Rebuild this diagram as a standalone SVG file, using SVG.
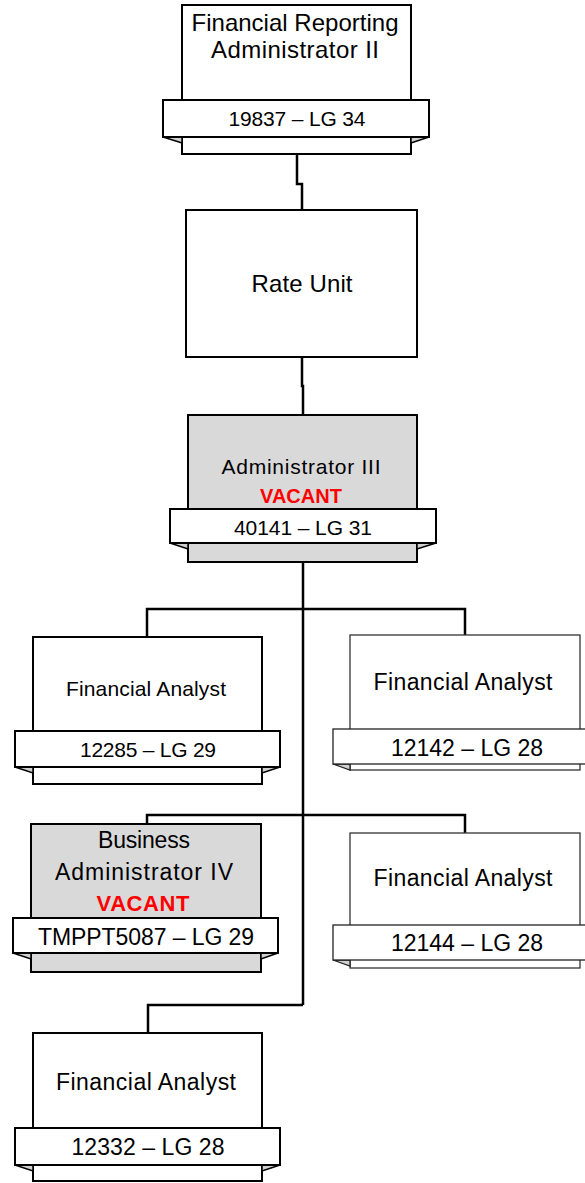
<svg xmlns="http://www.w3.org/2000/svg" width="585" height="1183" viewBox="0 0 585 1183">
<style>
.box{fill:#fff;stroke:#000;stroke-width:2}
.gbox{fill:#d9d9d9;stroke:#000;stroke-width:2}
.band{fill:#fff;stroke:#000;stroke-width:2}
.fold{fill:#d0d0d0;stroke:#000;stroke-width:1.5;stroke-linejoin:miter}
.lbox{fill:#fff;stroke:#333;stroke-width:1.3}
.lband{fill:#fff;stroke:#222;stroke-width:1.3}
.lfold{fill:#d0d0d0;stroke:#222;stroke-width:1.3}
.t{font-family:"Liberation Sans",Arial,sans-serif;fill:#000;text-anchor:middle}
.v{font-family:"Liberation Sans",Arial,sans-serif;fill:#ff0000;font-weight:bold;text-anchor:middle}
.conn{fill:none;stroke:#000;stroke-width:2.5}
</style>
<g id="connectors">
<path class="conn" d="M297 154 V184 H302 V210"/>
<path class="conn" d="M302 357 V386 H303 V415"/>
<path class="conn" d="M303 562 V1005"/>
<path class="conn" d="M147 637 V609 H465 V635"/>
<path class="conn" d="M147 824 V815 H465 V833"/>
<path class="conn" d="M303 1005 H148 V1033"/>
</g>
<g id="node-fra2">
<rect class="box" x="182" y="5" width="229" height="149"/>
<polygon class="fold" points="163,137 182,137 182,143"/>
<polygon class="fold" points="429,137 411,137 411,143"/>
<rect class="band" x="163" y="100" width="266" height="37"/>
<text class="t" x="295" y="31" font-size="24" textLength="207">Financial Reporting</text>
<text class="t" x="295" y="58" font-size="24" textLength="168">Administrator II</text>
<text class="t" x="297" y="126" font-size="21" textLength="137">19837 – LG 34</text>
</g>
<g id="node-rate">
<rect class="box" x="186" y="210" width="231" height="147"/>
<text class="t" x="302" y="292" font-size="24" textLength="101">Rate Unit</text>
</g>
<g id="node-adm3">
<rect class="gbox" x="188" y="415" width="229" height="147"/>
<polygon class="fold" points="170,543 188,543 188,549"/>
<polygon class="fold" points="436,543 417,543 417,549"/>
<rect class="band" x="170" y="509" width="266" height="34"/>
<text class="t" x="301" y="474" font-size="21" textLength="159">Administrator III</text>
<text class="v" x="301" y="503" font-size="20" textLength="82">VACANT</text>
<text class="t" x="303" y="535" font-size="21" textLength="138">40141 – LG 31</text>
</g>
<g id="node-fa-12285">
<rect class="box" x="33" y="637" width="229" height="147"/>
<polygon class="fold" points="15,767 33,767 33,773"/>
<polygon class="fold" points="280,767 262,767 262,773"/>
<rect class="band" x="15" y="731" width="265" height="36"/>
<text class="t" x="146" y="696" font-size="21" textLength="160">Financial Analyst</text>
<text class="t" x="148" y="757" font-size="21" textLength="136">12285 – LG 29</text>
</g>
<g id="node-fa-12142">
<rect class="lbox" x="350" y="635" width="230" height="135"/>
<polygon class="lfold" points="333,764 350,764 350,770"/>
<rect class="lband" x="333" y="729" width="265" height="35"/>
<text class="t" x="463" y="690" font-size="23" textLength="179">Financial Analyst</text>
<text class="t" x="467" y="756" font-size="23" textLength="152">12142 – LG 28</text>
</g>
<g id="node-ba4">
<rect class="gbox" x="31" y="824" width="230" height="148"/>
<polygon class="fold" points="13,953 31,953 31,959"/>
<polygon class="fold" points="278,953 261,953 261,959"/>
<rect class="band" x="13" y="918" width="265" height="35"/>
<text class="t" x="144" y="848" font-size="23" textLength="92">Business</text>
<text class="t" x="144" y="880" font-size="23" textLength="178">Administrator IV</text>
<text class="v" x="143" y="911" font-size="22" textLength="93">VACANT</text>
<text class="t" x="146" y="945" font-size="23" textLength="216">TMPPT5087 – LG 29</text>
</g>
<g id="node-fa-12144">
<rect class="lbox" x="350" y="833" width="230" height="135"/>
<polygon class="lfold" points="333,960 350,960 350,966"/>
<rect class="lband" x="333" y="925" width="265" height="35"/>
<text class="t" x="463" y="886" font-size="23" textLength="179">Financial Analyst</text>
<text class="t" x="467" y="951" font-size="23" textLength="152">12144 – LG 28</text>
</g>
<g id="node-fa-12332">
<rect class="box" x="33" y="1033" width="229" height="148"/>
<polygon class="fold" points="15,1165 33,1165 33,1171"/>
<polygon class="fold" points="280,1165 262,1165 262,1171"/>
<rect class="band" x="15" y="1128" width="265" height="37"/>
<text class="t" x="146" y="1090" font-size="23" textLength="180">Financial Analyst</text>
<text class="t" x="148" y="1155" font-size="23" textLength="153">12332 – LG 28</text>
</g>
</svg>
